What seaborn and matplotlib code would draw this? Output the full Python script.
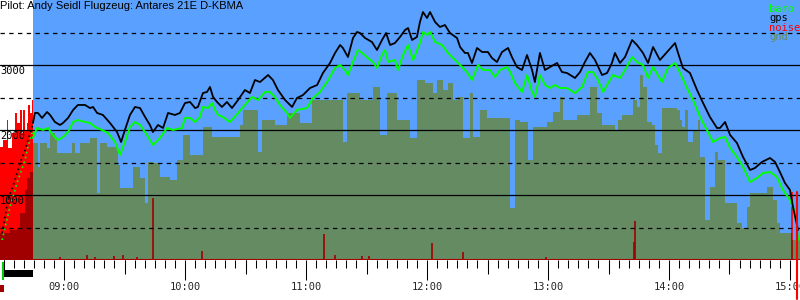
import numpy as np
import pandas as pd
import matplotlib
matplotlib.use("Agg")
import matplotlib.pyplot as plt
import matplotlib.transforms as mtransforms
from matplotlib.patches import Rectangle
import seaborn as sns

# ---------------- data (time in minutes after midnight, altitude in m) -------------
title = "Pilot: Andy Seidl Flugzeug: Antares 21E D-KBMA"

engine_start = 509.3
takeoff = 524.6          # engine stopped, gliding begins
landing = 904.0

gps_t = [509.3, 512.2, 515.7, 518.2, 520.7, 522.6, 524.1,
         524.6, 525.6, 527.1, 529.1, 531.6, 533.1, 535.5, 538.0, 539.5, 542.0,
         544.5, 546.9, 550.4, 552.9, 554.4, 556.4, 559.3, 562.8, 566.3, 568.3,
         570.2, 572.7, 575.2, 577.7, 580.2, 582.6, 584.1, 586.6, 589.1, 591.6,
         595.0, 597.5, 600.0, 602.5, 605.0, 606.4, 608.9, 610.9, 612.4, 613.9,
         615.9, 618.3, 620.8, 623.3, 626.3, 629.7, 632.2, 634.7, 637.2, 641.2,
         643.6, 646.1, 649.6, 653.1, 655.5, 658.5, 662.0, 665.5, 668.4, 671.9,
         674.4, 676.9, 678.3, 680.8, 683.3, 685.3, 686.8, 689.3, 692.7, 695.2,
         697.7, 699.7, 701.7, 704.1, 706.6, 709.1, 710.6, 712.6, 715.0, 716.5,
         718.0, 720.0, 721.5, 724.0, 726.4, 728.9, 731.4, 734.9, 736.4, 738.8,
         740.3, 742.3, 744.8, 747.3, 750.2, 752.2, 754.7, 757.2, 760.2, 762.1,
         764.6, 767.1, 769.6, 772.1, 773.5, 776.0, 778.5, 781.0, 784.5, 786.9,
         789.4, 793.4, 795.9, 798.3, 800.8, 803.3, 806.8, 809.3, 811.7, 813.2,
         815.7, 818.2, 821.7, 824.1, 827.1, 829.6, 832.1, 835.5, 839.0, 843.0,
         844.5, 846.9, 850.4, 853.9, 856.9, 860.3, 863.8, 865.3, 867.8, 870.3,
         873.7, 876.7, 880.2, 882.6, 886.1, 890.1, 892.6, 895.0, 897.5, 900.0,
         901.5, 904.0]
gps_alt = [415, 923, 1231, 1492, 1692, 1892, 2031,
           2108, 2262, 2262, 2185, 2277, 2231, 2123, 2077, 2108, 2185,
           2308, 2385, 2385, 2338, 2354, 2262, 2231, 2108, 1969, 1815,
           2000, 2231, 2354, 2338, 2200, 2077, 1969, 2077, 2031, 2262,
           2231, 2262, 2415, 2431, 2338, 2354, 2569, 2585, 2662, 2508,
           2431, 2354, 2431, 2338, 2462, 2615, 2569, 2769, 2738, 2846,
           2769, 2615, 2462, 2354, 2492, 2538, 2646, 2692, 2877, 3031,
           3185, 3308, 3262, 3123, 3415, 3508, 3492, 3415, 3354, 3231,
           3385, 3492, 3308, 3338, 3431, 3538, 3569, 3385, 3431, 3662,
           3815, 3723, 3815, 3662, 3585, 3615, 3492, 3415, 3277, 3185,
           3185, 3031, 3262, 3200, 3200, 3108, 3046, 3200, 3262, 3123,
           2969, 2923, 3154, 2923, 2738, 3185, 2923, 2969, 3031, 2892,
           2877, 2800, 2892, 3046, 3185, 3077, 2846, 2877, 3031, 3185,
           3031, 3123, 3385, 3308, 3185, 3031, 3277, 3077, 3200, 3338,
           3185, 2954, 2877, 2615, 2415, 2200, 2031, 2031, 2123, 1923,
           1800, 1585, 1385, 1415, 1508, 1569, 1508, 1354, 1185, 1077,
           815, 462]

baro_t = [509.3, 513.2, 517.2, 520.7, 522.1, 524.1,
          524.6, 526.6, 529.6, 532.1, 534.5, 537.0, 539.5, 542.0, 544.5, 546.9,
          550.4, 552.9, 555.4, 558.8, 561.8, 565.3, 567.8, 570.2, 572.7, 575.2,
          577.7, 580.2, 584.1, 587.6, 591.1, 594.0, 598.5, 600.0, 602.5, 605.0,
          607.4, 608.9, 611.4, 613.4, 614.9, 616.4, 618.8, 622.3, 626.3, 629.7,
          633.2, 636.2, 639.7, 642.1, 644.6, 647.1, 650.6, 652.1, 655.5, 660.5,
          663.5, 666.9, 670.4, 674.4, 676.9, 679.3, 680.8, 683.3, 685.8, 687.8,
          690.7, 693.2, 695.2, 697.7, 699.2, 700.7, 704.1, 705.6, 708.1, 710.6,
          713.1, 716.5, 718.0, 720.0, 721.5, 724.0, 727.4, 730.4, 733.9, 736.4,
          739.8, 742.3, 745.3, 747.8, 751.2, 753.7, 756.2, 759.7, 761.2, 763.6,
          767.1, 769.6, 772.1, 773.5, 776.0, 778.5, 781.0, 783.5, 786.0, 789.4,
          793.4, 796.9, 799.8, 802.3, 804.8, 807.3, 809.8, 812.2, 815.7, 818.2,
          821.7, 824.1, 827.1, 829.6, 832.1, 836.5, 839.5, 843.0, 845.5, 848.9,
          851.9, 855.4, 858.8, 861.8, 865.3, 867.8, 870.3, 873.7, 876.7, 880.2,
          883.6, 886.6, 890.1, 893.5, 896.5, 900.0, 902.5, 904.0]
baro_alt = [308, 815, 1231, 1538, 1738, 1954,
            1877, 2031, 2000, 2031, 1923, 1846, 1892, 1969, 2123, 2154,
            2123, 2108, 2046, 2000, 1954, 1815, 1615, 1815, 2046, 2123,
            2077, 1969, 1769, 1877, 2031, 2000, 2031, 2185, 2185, 2123,
            2200, 2354, 2338, 2415, 2308, 2231, 2200, 2123, 2262, 2385,
            2508, 2462, 2585, 2585, 2508, 2385, 2262, 2185, 2308, 2338,
            2492, 2585, 2738, 2954, 3000, 2923, 2846, 3046, 3231, 3185,
            3108, 3046, 2954, 3154, 3231, 3046, 3077, 2923, 3154, 3308,
            3077, 3338, 3508, 3462, 3508, 3354, 3308, 3185, 3077, 3000,
            2892, 2769, 3000, 2923, 2923, 2815, 2923, 2969, 2892, 2723,
            2585, 2846, 2585, 2508, 2846, 2692, 2646, 2692, 2646, 2646,
            2569, 2662, 2892, 2892, 2769, 2585, 2723, 2846, 2800, 2923,
            3123, 3046, 3000, 2800, 2969, 2738, 2954, 3031, 2877, 2646,
            2462, 2200, 2000, 1815, 1877, 1892, 1723, 1585, 1431, 1200,
            1262, 1338, 1354, 1277, 1077, 923, 723, 308]

gnd_t = [508.3, 513.2, 516.7, 518.2, 520.7, 521.7, 523.1, 524.6, 527.1, 528.1,
         531.6, 533.1, 535.5, 536.5, 544.0, 545.4, 548.0, 552.9, 556.4, 557.8,
         561.3, 566.8, 567.8, 574.2, 577.7, 580.2, 581.6, 584.1, 587.6, 592.6,
         596.0, 599.0, 602.5, 608.9, 613.4, 627.3, 628.8, 636.2, 638.2, 644.6,
         650.6, 657.0, 663.0, 678.3, 680.3, 686.8, 693.2, 696.7, 700.2, 705.1,
         711.6, 715.0, 719.0, 723.0, 725.0, 728.0, 730.4, 732.9, 735.4, 737.8,
         741.3, 742.8, 746.3, 749.8, 761.2, 763.6, 766.1, 770.1, 772.6, 779.5,
         782.5, 786.0, 787.4, 794.4, 800.8, 804.3, 806.8, 810.8, 813.2, 814.7,
         816.7, 822.2, 824.1, 825.6, 827.1, 829.1, 831.6, 833.1, 834.5, 836.5,
         844.0, 845.5, 846.5, 848.0, 849.4, 851.9, 854.4, 855.4, 857.9, 860.3,
         862.8, 864.3, 867.8, 873.7, 876.2, 878.7, 880.2, 888.6, 891.6, 893.6,
         895.0, 901.0, 905.0]
gnd_alt = [415, 462, 492, 723, 1077, 1262, 1354, 1800, 1431, 1800,
           1723, 1954, 1846, 1646, 1800, 1646, 1800, 1877, 1031, 1800,
           1738, 1462, 1108, 1431, 1262, 877, 1508, 1492, 1277, 1231,
           1538, 1923, 1615, 2046, 1892, 2077, 2308, 1662, 2154, 2077,
           2262, 2108, 2462, 1815, 2569, 2462, 2662, 1923, 2569, 2154,
           1877, 2769, 2723, 2569, 2769, 2615, 2723, 2462, 2508, 1877,
           2569, 1892, 2308, 2185, 800, 2154, 2123, 1538, 2046, 2123,
           2277, 2508, 2154, 2231, 2662, 2262, 2077, 2077, 2000, 2154,
           2231, 2462, 2354, 2846, 2662, 2123, 2077, 1769, 1646, 2338,
           2308, 2154, 2046, 2308, 1815, 2000, 2154, 1585, 615, 1123,
           1662, 1538, 877, 569, 492, 815, 1031, 1123, 923, 569,
           415, 308, 308]

# engine noise during the self-launch climb
noise_t = [508.3, 509.7, 511.7, 512.2, 514.2, 515.7, 516.7, 518.2, 519.2, 519.7,
           520.7, 521.7, 522.1, 523.1, 524.1, 524.6]
noise_v = [1738, 1846, 2154, 1723, 1954, 2262, 2108, 2308, 1954, 2308,
           2000, 2108, 2385, 2262, 2462, 0]
# isolated noise spikes during the flight
spike_t = [538.0, 551.4, 555.4, 564.8, 569.3, 576.2, 584.1, 608.4, 668.9, 674.4,
           687.8, 691.2, 722.5, 737.8, 779.0, 822.6, 823.1, 901.0, 903.5]
spike_v = [46, 77, 46, 62, 77, 46, 954, 138, 400, 77,
           62, 62, 262, 123, 46, 277, 600, 1046, 1046]

legend_names = ["baro", "gps", "noise", "gnd"]
hours = [9, 10, 11, 12, 13, 14, 15]
alt_labels = [1000, 2000, 3000]

# ---------------- style --------------------------------------------------------------
sns.set_style("white")
C_BLUE = "#5aa0ff"
C_GND = "#658b63"
C_BARO = "#00ff00"
C_GPS = "#000000"
C_NOISE = "#ff0000"
C_DARK = "#a00000"
MONO = "DejaVu Sans Mono"

fig = plt.figure(figsize=(8, 3), dpi=100)
fig.patch.set_facecolor("white")
ax = fig.add_axes([0, 40 / 300, 1, 260 / 300])
ax.set_facecolor("white")
x0, x1 = 508.26, 904.96
ax.set_xlim(x0, x1)
ax.set_ylim(0, 4000)

# gliding period background
ax.axvspan(takeoff, x1, color=C_BLUE, lw=0, zorder=0)

# noise (bright red)
ax.fill_between(noise_t, noise_v, step="post", color=C_NOISE, lw=0, zorder=1)
ax.vlines(spike_t, 0, spike_v, color=C_NOISE, lw=1.2, zorder=1)

# ground
gpoly = ax.fill_between(gnd_t, gnd_alt, step="post", color=C_GND, lw=0, zorder=2)
gpath = gpoly.get_paths()[0]

# noise inside ground drawn dark red
d1 = ax.fill_between(noise_t, noise_v, step="post", color=C_DARK, lw=0, zorder=3)
d2 = ax.vlines(spike_t, 0, spike_v, color=C_DARK, lw=1.2, zorder=3)
for art in (d1, d2):
    art.set_clip_path(gpath, ax.transData)

# grid lines
for v in [1000, 2000, 3000]:
    ax.axhline(v, color="black", lw=0.9, zorder=4)
for v in [500, 1500, 2500, 3500]:
    ax.axhline(v, color="black", lw=0.9, ls=(0, (3.5, 3.5)), zorder=4)
ax.axhline(0, color=C_DARK, lw=2.2, zorder=4)

# altitude curves
gps = pd.DataFrame({"t": gps_t, "alt": gps_alt})
baro = pd.DataFrame({"t": baro_t, "alt": baro_alt})
for df, col, lw in ((baro, C_BARO, 1.4), (gps, C_GPS, 1.3)):
    fl = df[df["t"] >= takeoff]
    cl = df[df["t"] <= takeoff]
    sns.lineplot(data=fl, x="t", y="alt", color=col, lw=lw, ax=ax,
                 estimator=None, sort=False, zorder=5)
    sns.lineplot(data=cl, x="t", y="alt", color=col, lw=1.2, ls=(0, (1, 2)),
                 ax=ax, estimator=None, sort=False, zorder=5)

ax.set_xlabel("")
ax.set_ylabel("")
for s in ax.spines.values():
    s.set_visible(False)

# ticks
ax.set_xticks([h * 60 for h in hours])
ax.set_xticklabels([f"{h:02d}:00" for h in hours], fontfamily=MONO, fontsize=7.5)
ax.set_xticks(np.arange(510, 905, 5), minor=True)
ax.tick_params(axis="x", which="major", length=14.4, width=0.75, color="black",
               direction="out", pad=1.2, bottom=True)
ax.tick_params(axis="x", which="minor", length=5.8, width=0.75, color="black",
               direction="out", bottom=True)
ax.set_yticks([])
sec = ax.secondary_xaxis("bottom")
sec.set_xticks([h * 60 + 30 for h in range(8, 15)])
sec.tick_params(length=10, width=0.75, color="black", labelbottom=False)
sec.spines["bottom"].set_visible(False)

# altitude labels
trans = mtransforms.blended_transform_factory(ax.transAxes, ax.transData)
for v in alt_labels:
    ax.text(0.0, v - 15, str(v), transform=trans, ha="left", va="top",
            fontfamily=MONO, fontsize=7.5, color="black", zorder=6)

# engine run markers below the axis
btrans = mtransforms.blended_transform_factory(ax.transData, ax.transAxes)
ax.add_patch(Rectangle((engine_start, -0.065), takeoff - engine_start, 0.027,
                       transform=btrans, color="black", clip_on=False, lw=0))
ax.add_patch(Rectangle((engine_start, -0.077), 1.0, 0.07,
                       transform=btrans, color="#00cc00", clip_on=False, lw=0))
ax.add_patch(Rectangle((x0, -0.123), 2.0, 0.027,
                       transform=btrans, color=C_DARK, clip_on=False, lw=0))
ax.plot([landing - 0.3, landing - 0.3], [-0.15, 0.26], transform=btrans,
        color=C_NOISE, lw=1.5, clip_on=False, zorder=6)

# title and legend
fig.text(0.0, 1 - 1 / 300, title, ha="left", va="top",
         fontfamily="Liberation Sans", fontsize=8, color="black")
leg_cols = [C_BARO, C_GPS, C_NOISE, C_GND]
for i, (name, col) in enumerate(zip(legend_names, leg_cols)):
    fig.text(769 / 800, 1 - (12 + 9.3 * i) / 300, name, ha="left", va="baseline",
             fontfamily=MONO, fontsize=7.5, color=col)

fig.savefig("out.png", dpi=100)
